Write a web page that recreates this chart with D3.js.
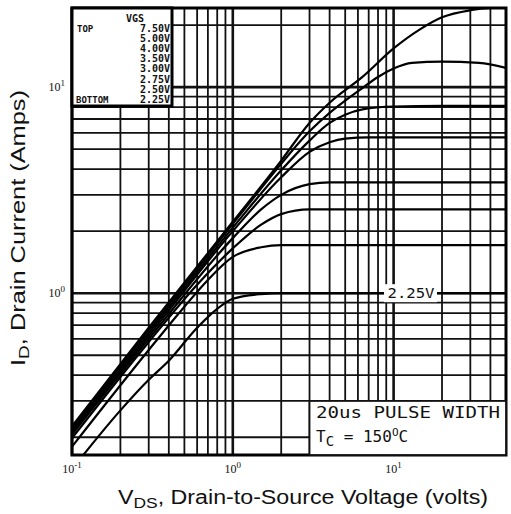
<!DOCTYPE html>
<html lang="en">
<head>
<meta charset="UTF-8">
<title>Drain Current vs VDS</title>
<script src="https://d3js.org/d3.v7.min.js"></script>
<style>
  body { margin: 0; background: #fff; }
  svg { display: block; }
</style>
</head>
<body>
<svg id="chart" width="511" height="514"></svg>
<script>
// gate voltages, top to bottom
const vgsLabels = ["7.50V", "5.00V", "4.00V", "3.50V", "3.00V", "2.75V", "2.50V", "2.25V"];

// [VDS (V), ID (A)] for each VGS
const curve750 = [[0.1,0.226],[0.3,0.68],[1,2.22],[2,4.4],[3,6.7],[4,8.4],[6.4,11.2],[10,15.4],[14.5,19.0],[20,21.8],[30,23.6],[40,24.2],[50,24.3]];
const curve500 = [[0.1,0.222],[0.3,0.66],[1,2.17],[2,4.25],[3,6.1],[4,7.5],[5,8.6],[6.4,9.9],[8,11.2],[10,12.3],[13,13.1],[20,13.3],[34,13.1],[50,12.4]];
const curve400 = [[0.1,0.217],[0.3,0.64],[1,2.08],[2,3.95],[3,5.5],[4,6.7],[5,7.35],[6.4,7.8],[10,8.05],[20,8.1],[50,8.1]];
const curve350 = [[0.1,0.212],[0.3,0.62],[1,2.0],[2,3.65],[3,4.85],[4,5.4],[5,5.62],[7,5.7],[50,5.7]];
const curve300 = [[0.1,0.206],[0.3,0.6],[1,1.85],[1.5,2.55],[2,3.0],[3,3.38],[4,3.45],[50,3.45]];
const curve275 = [[0.1,0.198],[0.3,0.58],[0.6,1.1],[1,1.65],[1.5,2.15],[2,2.42],[3,2.55],[50,2.55]];
const curve250 = [[0.1,0.18],[0.3,0.53],[0.5,0.86],[0.7,1.16],[1,1.5],[1.5,1.67],[2,1.71],[50,1.71]];
const curve225 = [[0.1,0.14],[0.2,0.27],[0.3,0.38],[0.4,0.47],[0.6,0.68],[0.8,0.84],[1,0.94],[1.5,0.99],[2,1.0],[50,1.0]];
const curves = [curve750, curve500, curve400, curve350, curve300, curve275, curve250, curve225];

const xDomain = [0.1, 50];
const yDomain = [0.164, 24.2];
const xTickLabels = [{v: 0.1, e: "-1"}, {v: 1, e: "0"}, {v: 10, e: "1"}];
const yTickLabels = [{v: 1, e: "0"}, {v: 10, e: "1"}];
const noteLines = ["20us PULSE WIDTH", "150"];

const svg = d3.select("#chart");
const plotL = 72, plotR = 506, plotT = 8, plotB = 455;

const x = d3.scaleLog().domain(xDomain).range([plotL, plotR]);
const y = d3.scaleLog().domain(yDomain).range([plotB, plotT]);

svg.append("rect").attr("width", 511).attr("height", 514).attr("fill", "#fff");

svg.append("defs").append("clipPath").attr("id", "plot-clip")
  .append("rect").attr("x", plotL).attr("y", plotT).attr("width", plotR - plotL).attr("height", plotB - plotT);

// grid
const isDecade = v => Math.abs(Math.log10(v) - Math.round(Math.log10(v))) < 1e-6;
const grid = svg.append("g").attr("stroke", "#111");
grid.selectAll("line.gx").data(x.ticks()).join("line")
  .attr("class", "gx")
  .attr("x1", d => x(d)).attr("x2", d => x(d))
  .attr("y1", plotT).attr("y2", plotB)
  .attr("stroke-width", d => isDecade(d) ? 2.6 : 1.8);
grid.selectAll("line.gy").data(y.ticks().filter(d => d > yDomain[0])).join("line")
  .attr("class", "gy")
  .attr("x1", plotL).attr("x2", plotR)
  .attr("y1", d => y(d)).attr("y2", d => y(d))
  .attr("stroke-width", d => isDecade(d) ? 2.6 : 1.8);

// curves
const line = d3.line()
  .x(d => x(d[0]))
  .y(d => y(d[1]))
  .curve(d3.curveMonotoneX);

svg.append("g").attr("clip-path", "url(#plot-clip)")
  .selectAll("path").data(curves).join("path")
  .attr("d", line)
  .attr("fill", "none")
  .attr("stroke", "#000")
  .attr("stroke-width", 2.2);

// frame
svg.append("rect").attr("x", plotL).attr("y", plotT)
  .attr("width", plotR - plotL).attr("height", plotB - plotT)
  .attr("fill", "none").attr("stroke", "#000").attr("stroke-width", 3);

// legend box
const mono = "'DejaVu Sans Mono', monospace";
const lg = svg.append("g").attr("font-family", mono).attr("font-weight", "bold").attr("fill", "#111");
lg.append("rect").attr("x", plotL).attr("y", plotT).attr("width", 100).attr("height", 98)
  .attr("fill", "#fff").attr("stroke", "#000").attr("stroke-width", 3);
lg.append("text").attr("x", 126).attr("y", 22).attr("font-size", 10).text("VGS");
lg.selectAll("text.v").data(vgsLabels).join("text")
  .attr("class", "v")
  .attr("x", 170).attr("y", (d, i) => 32 + i * 10.1)
  .attr("text-anchor", "end")
  .attr("font-size", 10)
  .text(d => d);
lg.append("text").attr("x", 77).attr("y", 32).attr("font-size", 9).text("TOP");
lg.append("text").attr("x", 76).attr("y", 103).attr("font-size", 9).text("BOTTOM");

// 2.25V label on its curve
const labY = y(curve225[curve225.length - 1][1]);
svg.append("rect").attr("x", 384).attr("y", labY - 9).attr("width", 53).attr("height", 18).attr("fill", "#fff");
svg.append("text").attr("x", 411).attr("y", labY + 5).attr("text-anchor", "middle")
  .attr("font-family", mono).attr("font-size", 14).attr("fill", "#111")
  .attr("textLength", 47).attr("lengthAdjust", "spacingAndGlyphs").text(vgsLabels[7]);

// note box (bounded by the grid lines)
svg.append("rect").attr("x", x(3)).attr("y", y(0.3)).attr("width", plotR - x(3)).attr("height", plotB - y(0.3))
  .attr("fill", "#fff").attr("stroke", "#111").attr("stroke-width", 1.8);
svg.append("text").attr("x", 316).attr("y", 418)
  .attr("font-family", mono).attr("font-size", 16).attr("fill", "#111")
  .attr("textLength", 184).attr("lengthAdjust", "spacingAndGlyphs")
  .text(noteLines[0]);
const tc = svg.append("text").attr("x", 316).attr("y", 442)
  .attr("font-family", mono).attr("font-size", 16).attr("fill", "#111");
tc.append("tspan").text("T");
tc.append("tspan").attr("dy", 4).attr("font-size", 14).text("C");
tc.append("tspan").attr("dy", -4).text(" = " + noteLines[1]);
tc.append("tspan").attr("dy", -6).attr("font-size", 11).text("O");
tc.append("tspan").attr("dy", 6).text("C");

// tick labels
const tickFont = "'Liberation Serif', serif";
xTickLabels.forEach(t => {
  const tx = svg.append("text").attr("x", x(t.v)).attr("y", 473).attr("text-anchor", "middle")
    .attr("font-family", tickFont).attr("font-size", 12).attr("fill", "#111");
  tx.append("tspan").text("10");
  tx.append("tspan").attr("dy", -5).attr("font-size", 9).text(t.e);
});
yTickLabels.forEach(t => {
  const ty = svg.append("text").attr("x", 65).attr("y", y(t.v) + 4).attr("text-anchor", "end")
    .attr("font-family", tickFont).attr("font-size", 12).attr("fill", "#111");
  ty.append("tspan").text("10");
  ty.append("tspan").attr("dy", -5).attr("font-size", 9).text(t.e);
});

// axis titles
const sans = "'Liberation Sans', Arial, sans-serif";
const xt = svg.append("text").attr("x", 118).attr("y", 504)
  .attr("font-family", sans).attr("font-size", 20).attr("fill", "#111")
  .attr("textLength", 370).attr("lengthAdjust", "spacingAndGlyphs");
xt.append("tspan").text("V");
xt.append("tspan").attr("dy", 4).attr("font-size", 15).text("DS");
xt.append("tspan").attr("dy", -4).text(", Drain-to-Source Voltage (volts)");

const yt = svg.append("text").attr("transform", "translate(25,366) rotate(-90)")
  .attr("font-family", sans).attr("font-size", 20).attr("fill", "#111")
  .attr("textLength", 276).attr("lengthAdjust", "spacingAndGlyphs");
yt.append("tspan").text("I");
yt.append("tspan").attr("dy", 4).attr("font-size", 15).text("D");
yt.append("tspan").attr("dy", -4).text(", Drain Current (Amps)");
</script>
</body>
</html>
